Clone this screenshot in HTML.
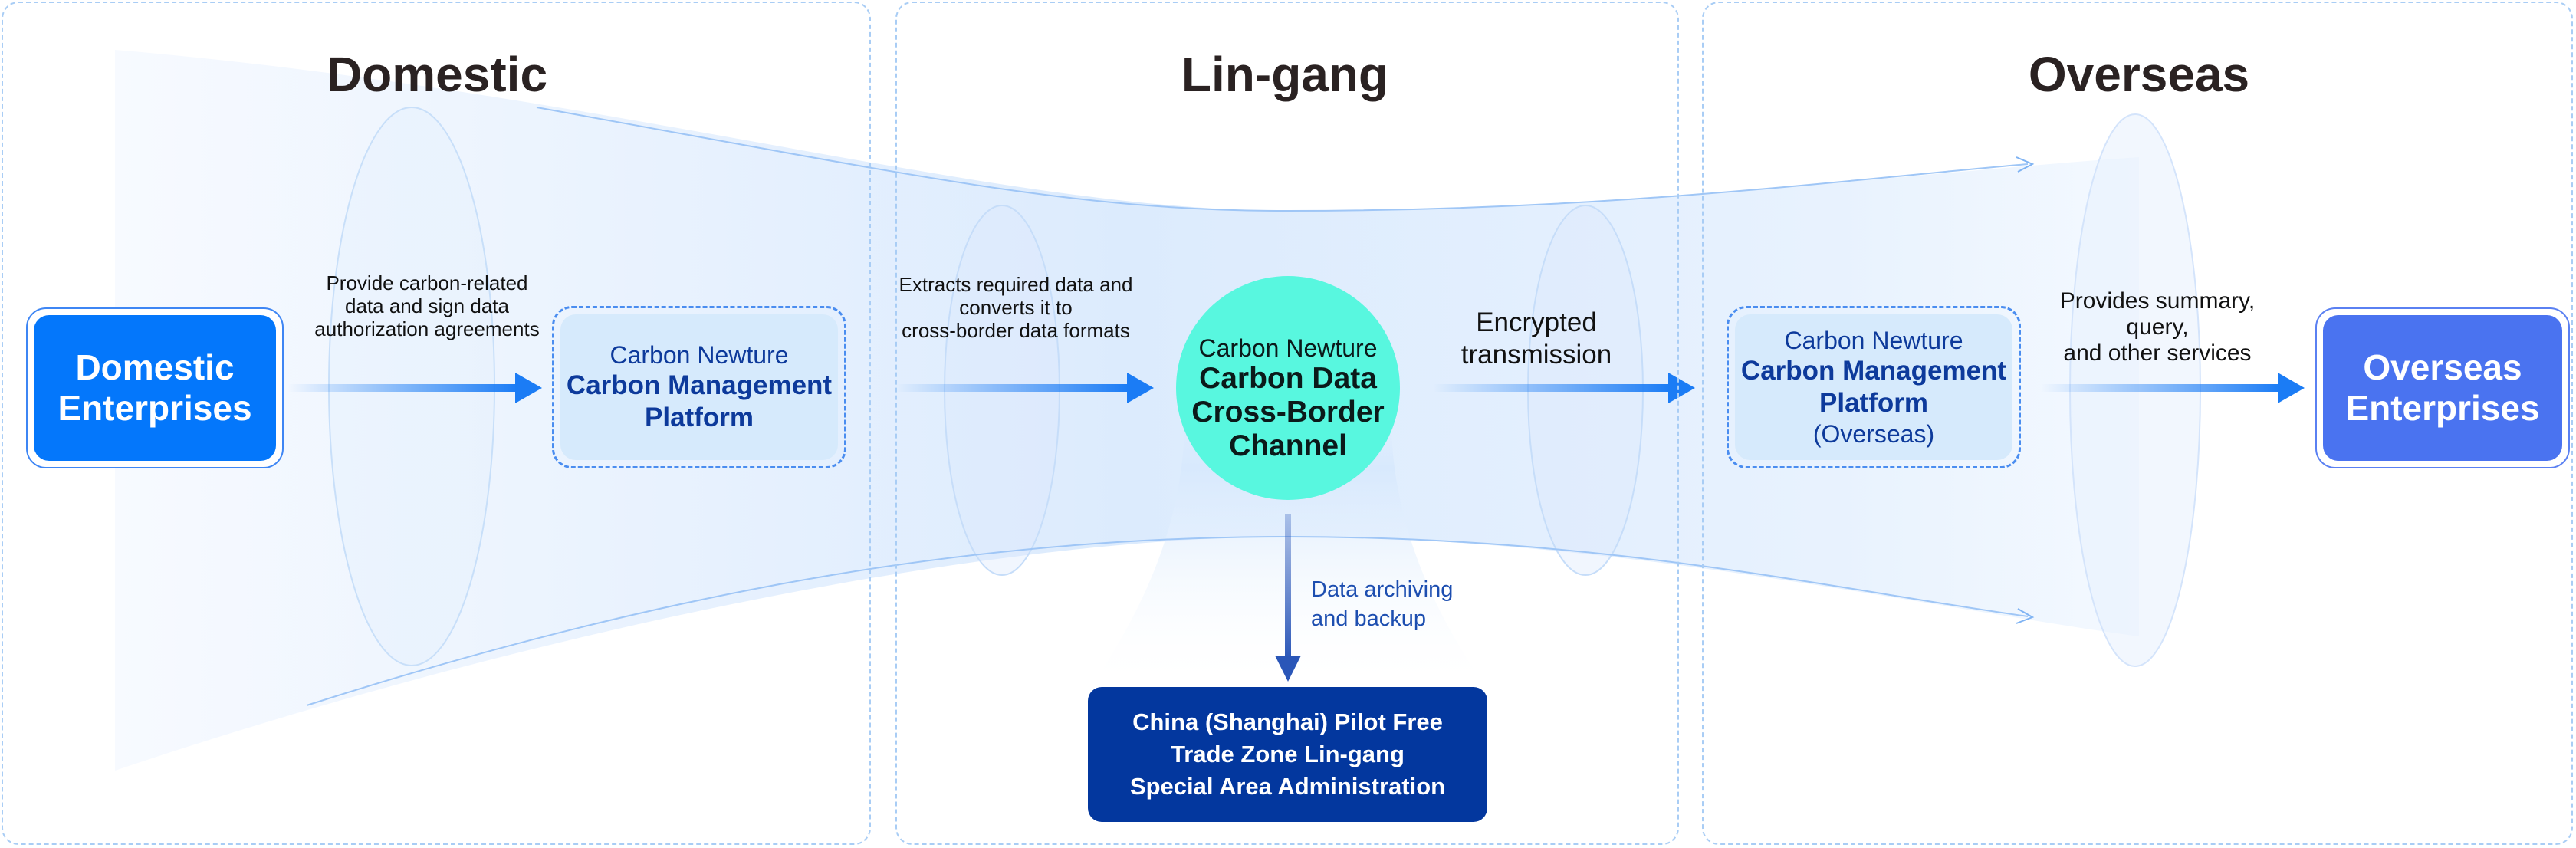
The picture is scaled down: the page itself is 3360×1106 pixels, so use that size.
<!DOCTYPE html>
<html><head><meta charset="utf-8"><style>
*{margin:0;padding:0;box-sizing:border-box}
body{width:3360px;height:1106px;background:#fff;position:relative;overflow:hidden;font-family:"Liberation Sans",sans-serif}
.a{position:absolute;text-align:center;line-height:1.15}
.panel{position:absolute;top:2px;height:1100px;border:2px dashed #a9cdf5;border-radius:22px}
.title{position:absolute;top:60px;font-size:64px;font-weight:bold;color:#2a2222;text-align:center;width:600px}
.ent{position:absolute;border:2px solid #3e86f4;border-radius:26px;padding:8px;background:#fff}
.ent div{width:100%;height:100%;border-radius:20px;color:#fff;font-weight:bold;font-size:46px;display:flex;align-items:center;justify-content:center;text-align:center;line-height:1.15}
.plat{position:absolute;border:3px dashed #4a8df0;border-radius:26px;padding:8px}
.plat div{width:100%;height:100%;border-radius:20px;background:#d6eafc;color:#0d3a9b;display:flex;flex-direction:column;align-items:center;justify-content:center;text-align:center;line-height:1.2;font-size:32px}
.plat b{font-size:35px}
.lbl{position:absolute;text-align:center;font-size:26px;color:#111;line-height:30px}
</style></head><body>
<svg width="3360" height="1106" style="position:absolute;left:0;top:0">
<defs>
<linearGradient id="band" x1="0" x2="1" y1="0" y2="0">
<stop offset="0" stop-color="#f7faff"/><stop offset="0.5" stop-color="#dcebfd"/><stop offset="0.85" stop-color="#e8f2fe"/><stop offset="1" stop-color="#f4f9ff"/></linearGradient>
<linearGradient id="fun" x1="0" x2="0" y1="0" y2="1">
<stop offset="0" stop-color="#d8e9fd" stop-opacity="0"/><stop offset="0.15" stop-color="#d8e9fd"/><stop offset="1" stop-color="#ffffff" stop-opacity="0"/></linearGradient>
<linearGradient id="ar" x1="0" x2="1"><stop offset="0" stop-color="#1b7cf5" stop-opacity="0"/><stop offset="1" stop-color="#1b7cf5"/></linearGradient>
<linearGradient id="dn" x1="0" x2="0" y1="0" y2="1"><stop offset="0" stop-color="#2a56b8" stop-opacity="0.3"/><stop offset="1" stop-color="#2a56b8"/></linearGradient>
</defs>
<path d="M150,65 C800,120 1300,275 1680,275 C2100,275 2500,225 2790,205 L2790,830 C2500,790 2100,700 1680,700 C1300,700 700,820 150,1005 Z" fill="url(#band)"/>
<path d="M1545,560 C1540,720 1460,840 1420,900 L1940,900 C1900,840 1820,720 1815,560 Z" fill="url(#fun)"/>
<ellipse cx="537" cy="504" rx="108" ry="364" fill="#e4effd" fill-opacity="0.4" stroke="#c8dff9" stroke-width="2"/>
<ellipse cx="1307" cy="509" rx="75" ry="241" fill="#dbe9fc" fill-opacity="0.4" stroke="#c6ddf9" stroke-width="2"/>
<ellipse cx="2068" cy="509" rx="75" ry="241" fill="#dbe9fc" fill-opacity="0.4" stroke="#c6ddf9" stroke-width="2"/>
<ellipse cx="2785" cy="509" rx="85" ry="360" fill="#e6f0fd" fill-opacity="0.5" stroke="#d4e4fb" stroke-width="2"/>
<path d="M700,140 C1200,230 1400,275 1680,275 C2100,275 2400,235 2645,214" fill="none" stroke="#9fc6f6" stroke-width="2"/>
<path d="M2630,205 L2651,214 L2632,224" fill="none" stroke="#7fb3f3" stroke-width="2"/>
<path d="M400,920 C900,760 1300,700 1680,700 C2100,700 2400,770 2645,804" fill="none" stroke="#9fc6f6" stroke-width="2"/>
<path d="M2632,794 L2651,805 L2630,813" fill="none" stroke="#7fb3f3" stroke-width="2"/>
<rect x="375" y="501" width="300" height="10" fill="url(#ar)"/><polygon points="672,486 707,506 672,526" fill="#1b7cf5"/>
<rect x="1168" y="501" width="305" height="10" fill="url(#ar)"/><polygon points="1470,486 1505,506 1470,526" fill="#1b7cf5"/>
<rect x="1869" y="501" width="310" height="10" fill="url(#ar)"/><polygon points="2176,486 2211,506 2176,526" fill="#1b7cf5"/>
<rect x="2662" y="501" width="312" height="10" fill="url(#ar)"/><polygon points="2971,486 3006,506 2971,526" fill="#1b7cf5"/>
<rect x="1676" y="670" width="8" height="190" fill="url(#dn)"/><polygon points="1663,855 1697,855 1680,889" fill="#2a56b8"/>
<circle cx="1680" cy="506" r="146" fill="#58f7df"/>
</svg>
<div class="panel" style="left:2px;width:1134px"></div>
<div class="panel" style="left:1168px;width:1022px"></div>
<div class="panel" style="left:2220px;width:1136px"></div>
<div class="title" style="left:270px">Domestic</div>
<div class="title" style="left:1376px">Lin-gang</div>
<div class="title" style="left:2490px">Overseas</div>
<div class="ent" style="left:34px;top:401px;width:336px;height:210px"><div style="background:#0477fb">Domestic<br>Enterprises</div></div>
<div class="ent" style="left:3020px;top:401px;width:332px;height:210px;border-color:#5a80f2"><div style="background:#4a73f0">Overseas<br>Enterprises</div></div>
<div class="plat" style="left:720px;top:399px;width:384px;height:212px"><div><span>Carbon Newture</span><b>Carbon Management<br>Platform</b></div></div>
<div class="plat" style="left:2252px;top:399px;width:384px;height:212px"><div><span>Carbon Newture</span><b>Carbon Management<br>Platform</b><span>(Overseas)</span></div></div>
<div class="lbl" style="left:357px;top:354px;width:400px">Provide carbon-related<br>data and sign data<br>authorization agreements</div>
<div class="lbl" style="left:1125px;top:356px;width:400px">Extracts required data and<br>converts it to<br>cross-border data formats</div>
<div class="lbl" style="left:1854px;top:400px;width:300px;font-size:35px;line-height:42px">Encrypted<br>transmission</div>
<div class="lbl" style="left:2614px;top:376px;width:400px;font-size:30px;line-height:34px">Provides summary,<br>query,<br>and other services</div>
<div class="a" style="left:1530px;top:436px;width:300px;color:#0b1a1a;font-size:32px;line-height:36px">Carbon Newture<br><b style="font-size:39px;line-height:44px">Carbon Data<br>Cross-Border<br>Channel</b></div>
<div class="lbl" style="left:1710px;top:750px;width:300px;text-align:left;color:#1d4eb0;font-size:29px;line-height:38px">Data archiving<br>and backup</div>
<div style="position:absolute;left:1419px;top:896px;width:521px;height:176px;background:#03379e;border-radius:18px;color:#fff;font-weight:bold;font-size:31px;line-height:42px;display:flex;align-items:center;justify-content:center;text-align:center">China (Shanghai) Pilot Free<br>Trade Zone Lin-gang<br>Special Area Administration</div>
</body></html>
